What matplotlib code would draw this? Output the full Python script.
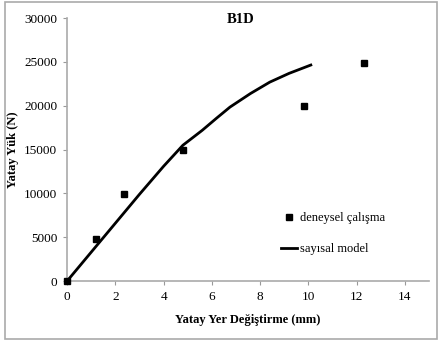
import matplotlib.pyplot as plt
from matplotlib.patches import Rectangle

plt.rcParams["font.family"] = ["Liberation Serif", "DejaVu Serif"]

# experimental points
exp_x = [0, 1.2, 2.35, 4.8, 9.8, 12.3]
exp_y = [0, 4800, 9900, 15000, 20000, 24900]

# numerical model curve
mod_x = [0, 1, 2, 3, 4, 4.8, 5.6, 6.2, 6.75, 7.6, 8.4, 9.2, 10.1]
mod_y = [0, 3300, 6600, 9900, 13100, 15500, 17200, 18600, 19850, 21400, 22700, 23700, 24650]

xticks = [0, 2, 4, 6, 8, 10, 12, 14]
yticks = [0, 5000, 10000, 15000, 20000, 25000, 30000]

fig = plt.figure(figsize=(4.41, 3.42), dpi=100)
ax = fig.add_axes([0.152, 0.178, 0.821, 0.769])

ax.plot(mod_x, mod_y, color='black', lw=2, label='sayısal model', zorder=2)
ax.plot(exp_x, exp_y, ls='none', marker='s', ms=5, color='black',
        label='deneysel çalışma', zorder=3, clip_on=False)

ax.set_xlim(0, 15)
ax.set_ylim(0, 30000)
ax.set_xticks(xticks)
ax.set_yticks(yticks)
ax.tick_params(labelsize=9.5, length=3, color='#999999', pad=4)
for s in ['top', 'right']:
    ax.spines[s].set_visible(False)
for s in ['left', 'bottom']:
    ax.spines[s].set_color('#aaaaaa')
    ax.spines[s].set_linewidth(1.2)

ax.set_xlabel('Yatay Yer Değiştirme (mm)', fontsize=9, fontweight='bold', labelpad=8)
ax.set_ylabel('Yatay Yük (N)', fontsize=9, fontweight='bold', labelpad=4)
ax.set_title('B1D', fontsize=10.5, fontweight='bold', x=0.48, y=0.95)

handles, labels = ax.get_legend_handles_labels()
ax.legend(handles[::-1], labels[::-1], loc='upper left',
          bbox_to_anchor=(0.56, 0.305), frameon=False, fontsize=9,
          handlelength=1.3, handletextpad=0.2, labelspacing=1.5)

fig.patches.append(Rectangle((0.012, 0.01), 0.98, 0.983, transform=fig.transFigure,
                             fill=False, edgecolor='#aaaaaa', lw=1.2))

fig.savefig('out.png', dpi=100)
